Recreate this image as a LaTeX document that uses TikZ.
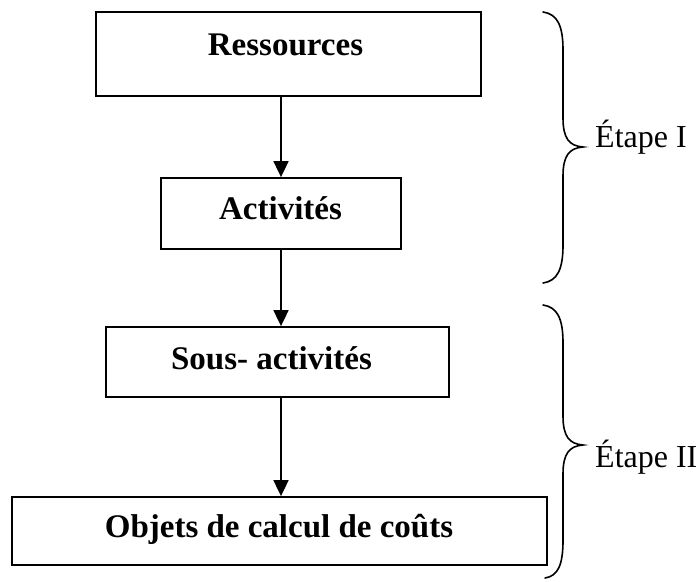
\documentclass[tikz,border=0pt]{standalone}
\usepackage{fontspec}
\setmainfont{Liberation Serif}
\usetikzlibrary{arrows.meta}
\begin{document}
\begin{tikzpicture}[x=1pt,y=-1pt,
  box/.style={draw,line width=1.8pt,rectangle,inner sep=0pt,minimum width=#1},
  lbl/.style={anchor=base,inner sep=0pt,font=\fontsize{33}{39}\selectfont\bfseries},
  stage/.style={anchor=base west,inner sep=0pt,font=\fontsize{32}{38}\selectfont},
  flow/.style={line width=1.8pt,-{Triangle[length=16pt,width=15pt]}},
  brace/.style={line width=1.6pt,line cap=round}]
  \useasboundingbox (0,0) rectangle (700,581);
  \coordinate (axis) at (281,0);

  % boxes of the cost chain
  \node[box=385pt,minimum height=84pt] (res) at (288.5,54) {};
  \node[box=240pt,minimum height=71pt] (act) at (281,213.5) {};
  \node[box=343pt,minimum height=70pt] (sous) at (277.5,362) {};
  \node[box=535pt,minimum height=68pt] (obj) at (279.5,531) {};

  \node[lbl] (tres) at (285.5,55) {Ressources};
  \node[lbl] (tact) at (280.5,219) {Activités};
  \node[lbl] (tsous) at (271.5,369) {Sous- activités};
  \node[lbl] (tobj) at (279,537) {Objets de calcul de coûts};

  % arrows between the stages
  \draw[flow] (res.south -| axis) -- (act.north -| axis);
  \draw[flow] (act.south -| axis) -- (sous.north -| axis);
  \draw[flow] (sous.south -| axis) -- (obj.north -| axis);

  % right braces grouping the steps
  \draw[brace] (543,12) .. controls (557,14) and (563,25) .. (563,50)
    -- (563,118) .. controls (563,138) and (569,146) .. (583,147)
    .. controls (569,148) and (563,156) .. (563,176)
    -- (563,245) .. controls (563,270) and (557,281) .. (543,283);
  \draw[brace] (543,305) .. controls (557,307) and (563,318) .. (563,343)
    -- (563,416) .. controls (563,436) and (569,444) .. (583,445)
    .. controls (569,446) and (563,454) .. (563,474)
    -- (563,540) .. controls (563,565) and (558,576) .. (545,578);

  \node[stage] (e1) at (595,147) {Étape I};
  \node[stage] (e2) at (595,467) {Étape II};
\end{tikzpicture}
\end{document}
